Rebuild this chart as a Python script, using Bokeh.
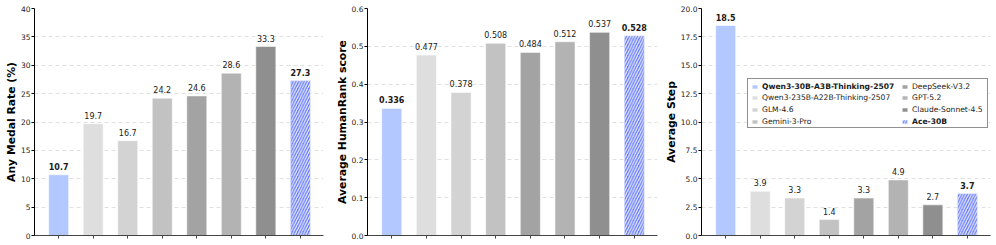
from bokeh.plotting import figure
from bokeh.layouts import row
from bokeh.models import (ColumnDataSource, FixedTicker, Legend, LegendItem,
                          Range1d, PrintfTickFormatter)
from bokeh.embed import file_html
from bokeh.resources import INLINE
from bokeh.core.properties import value

# ---------------- data ----------------
models = ["Qwen3-30B-A3B-Thinking-2507", "Qwen3-235B-A22B-Thinking-2507",
          "GLM-4.6", "Gemini-3-Pro", "DeepSeek-V3.2", "GPT-5.2",
          "Claude-Sonnet-4.5", "Ace-30B"]
colors = ["#b3c8ff", "#dedede", "#d3d3d3", "#c2c2c2",
          "#a3a3a3", "#b3b3b3", "#8f8f8f", "#6277f7"]
hatches = [" ", " ", " ", " ", " ", " ", " ", "/"]
label_styles = ["bold", "normal", "normal", "normal", "normal", "normal", "normal", "bold"]

medal_rate = [10.7, 19.7, 16.7, 24.2, 24.6, 28.6, 33.3, 27.3]
humanrank = [0.336, 0.477, 0.378, 0.508, 0.484, 0.512, 0.537, 0.528]
avg_step = [18.5, 3.9, 3.3, 1.4, 3.3, 4.9, 2.7, 3.7]

medal_ticks = [0, 5, 10, 15, 20, 25, 30, 35, 40]
hr_ticks = [0.0, 0.1, 0.2, 0.3, 0.4, 0.5, 0.6]
step_ticks = [0.0, 2.5, 5.0, 7.5, 10.0, 12.5, 15.0, 17.5, 20.0]

FONT = "DejaVu Sans"
H = 245
TOP, BOTTOM = 8, 10


def make_panel(vals, ylabel, ticks, tick_fmt, val_fmt, width, bl, br):
    xs = list(range(len(models)))
    p = figure(width=width, height=H, output_backend="svg", toolbar_location=None,
               x_range=Range1d(-0.7, 7.67), y_range=Range1d(ticks[0], ticks[-1]),
               min_border_left=bl, min_border_right=br, min_border_top=TOP,
               min_border_bottom=BOTTOM)
    p.outline_line_color = None
    p.background_fill_color = "white"
    src = ColumnDataSource(dict(x=xs, top=vals, color=colors, hatch=hatches,
                                txt=[val_fmt % v for v in vals], style=label_styles))
    bars = p.vbar(x="x", top="top", width=0.58, source=src, fill_color="color",
                  line_color="white", line_alpha=0.55, line_width=1,
                  hatch_pattern="hatch", hatch_color="white", hatch_scale=5.5,
                  hatch_weight=1.3, hatch_alpha=0.85)
    p.text(x="x", y="top", text="txt", source=src, text_align="center",
           text_baseline="bottom", y_offset=-5, text_font=value(FONT),
           text_font_size="8px", text_font_style="style", text_color="#1a1a1a")

    p.xgrid.visible = False
    p.ygrid.ticker = FixedTicker(ticks=ticks)
    p.ygrid.grid_line_color = "#d8d8d8"
    p.ygrid.grid_line_dash = "4 3"
    p.ygrid.grid_line_width = 0.8

    ya = p.yaxis[0]
    ya.ticker = FixedTicker(ticks=ticks)
    ya.formatter = PrintfTickFormatter(format=tick_fmt)
    ya.axis_label = ylabel
    ya.axis_label_text_font = FONT
    ya.axis_label_text_font_style = "bold"
    ya.axis_label_text_font_size = "10.8px"
    ya.axis_label_text_color = "black"
    ya.axis_label_standoff = 0
    ya.major_label_text_font = FONT
    ya.major_label_text_font_size = "7.5px"
    ya.major_label_text_color = "#222222"
    ya.major_label_standoff = 1
    ya.axis_line_color = "black"
    ya.major_tick_line_color = "black"
    ya.major_tick_in = 0
    ya.major_tick_out = 3
    ya.minor_tick_line_color = None

    # category positions marked with (label-less) minor ticks only
    xa = p.xaxis[0]
    xa.ticker = FixedTicker(ticks=[], minor_ticks=xs)
    xa.major_label_standoff = 0
    xa.axis_label_standoff = 0
    xa.axis_line_color = "#444444"
    xa.minor_tick_line_color = "#444444"
    xa.minor_tick_in = 0
    xa.minor_tick_out = 3
    xa.major_tick_in = 0
    xa.major_tick_out = 0
    xa.major_tick_line_color = None
    return p, bars


W1, W2, W3 = 330, 329, 337
BL3, BR3 = 42, 6
p1, _ = make_panel(medal_rate, "Any Medal Rate (%)", medal_ticks, "%d", "%.1f", W1, 34, 7)
p2, _ = make_panel(humanrank, "Average HumanRank score", hr_ticks, "%.1f", "%.3f", W2, 37, 2)
p3, bars3 = make_panel(avg_step, "Average Step", step_ticks, "%.1f", "%.1f", W3, BL3, BR3)

# ---------------- legend (two columns, per-item font style) ----------------
dummy = p3.vbar(x=[], top=[], width=0.5, fill_alpha=0, line_alpha=0)

FRAME_W = W3 - BL3 - BR3
FRAME_H = H - TOP - BOTTOM
LEG_W, LEG_H = 239, 48
LEG_LEFT = FRAME_W - 4 - LEG_W
LEG_TOP = FRAME_H - 72
LEG_BOTTOM = LEG_TOP - LEG_H
ROW_TOP_OFFSETS = [6, 17.7, 29.4, 41.1]   # row centres below the box top
COL_DX = [4, 154]
ITEM_H = 9

bg = Legend(items=[LegendItem(label=" ", renderers=[dummy])],
            location=(LEG_LEFT, LEG_BOTTOM), padding=0, margin=0, spacing=0,
            glyph_width=1, glyph_height=1, label_standoff=0,
            label_width=LEG_W - 1, label_height=LEG_H,
            label_text_font_size="7px",
            border_line_color="#222222", border_line_width=1,
            background_fill_color="white", background_fill_alpha=1)
p3.add_layout(bg, "center")

for i, m in enumerate(models):
    col, r = divmod(i, 4)
    yc = LEG_TOP - ROW_TOP_OFFSETS[r]
    leg = Legend(items=[LegendItem(label=m, renderers=[bars3], index=i)],
                 location=(LEG_LEFT + COL_DX[col], yc - ITEM_H / 2),
                 padding=0, margin=0, spacing=0,
                 glyph_width=7, glyph_height=5, label_standoff=4,
                 label_height=ITEM_H, label_text_line_height=1.0,
                 label_text_font=FONT, label_text_font_size="7.6px",
                 label_text_font_style=label_styles[i],
                 label_text_color="#1a1a1a",
                 border_line_alpha=0, background_fill_alpha=0)
    p3.add_layout(leg, "center")

layout = row(p1, p2, p3)
open("out.html", "w").write(file_html(layout, INLINE))
